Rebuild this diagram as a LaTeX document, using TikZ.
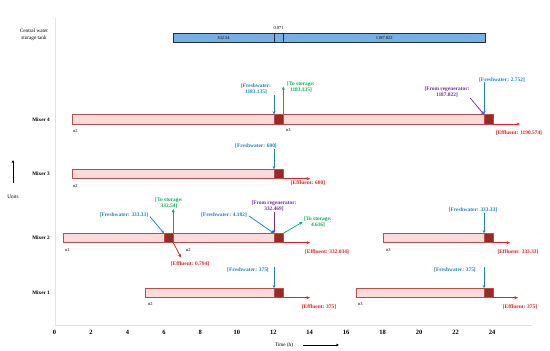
\documentclass[tikz,border=0pt]{standalone}
\usepackage{fontspec}
\setmainfont{Liberation Serif}
\usetikzlibrary{arrows.meta,positioning}

\definecolor{barfill}{RGB}{251,218,216}
\definecolor{barline}{RGB}{190,75,72}
\definecolor{darkfill}{RGB}{150,42,38}
\definecolor{tankfill}{RGB}{120,175,228}
\definecolor{tankline}{RGB}{35,45,60}
\definecolor{freshblue}{RGB}{25,130,205}
\definecolor{storegreen}{RGB}{0,178,80}
\definecolor{regenpurple}{RGB}{115,45,160}
\definecolor{efflred}{RGB}{245,25,25}
\definecolor{axisgray}{RGB}{225,225,225}

\tikzset{
  lite/.style={draw=barline, fill=barfill, line width=0.9pt, inner sep=0pt, outer sep=0pt, minimum height=9.4pt, anchor=west},
  dark/.style={lite, fill=darkfill, minimum width=9.3pt},
  tankseg/.style={draw=tankline, fill=tankfill, line width=0.9pt, inner sep=0pt, outer sep=0pt, minimum height=9.6pt, anchor=west, font=\fontsize{4.5}{5}\selectfont},
  tag/.style={font=\fontsize{5.4}{6}\selectfont\bfseries, inner sep=0.5pt, align=center},
  fwtag/.style={tag, text=freshblue},
  sttag/.style={tag, text=storegreen},
  rgtag/.style={tag, text=regenpurple},
  eftag/.style={tag, text=efflred},
  flow/.style={-{Stealth[length=3.4pt,width=3pt]}, line width=0.75pt},
  fw/.style={flow, freshblue},
  st/.style={flow, storegreen},
  rg/.style={flow, regenpurple},
  ef/.style={flow, efflred},
  mixer/.style={font=\fontsize{5.2}{6}\selectfont\bfseries, anchor=east, inner sep=0pt},
  nid/.style={font=\fontsize{4.5}{5}\selectfont, anchor=west, inner sep=0pt},
  tick/.style={font=\fontsize{6.5}{7}\selectfont\bfseries, inner sep=0pt},
  plain/.style={font=\fontsize{5.2}{6.6}\selectfont, inner sep=0pt, align=center},
  guide/.style={-{Stealth[length=3pt,width=2.6pt]}, line width=0.45pt}
}

\begin{document}
\begin{tikzpicture}[x=1pt,y=-1pt]
    \useasboundingbox (0,0) rectangle (550,351);

    % Axes
    \draw[axisgray, line width=0.6pt] (55,18) -- (55,325) -- (532,325);
    \foreach \t in {0,2,...,24}
        \node[tick] (h\t) at ({54.5+18.23*\t},332.5) {\t};
    \node[plain] (timelab) at (284,345) {Time (h)};
    \coordinate (timefrom) at (303,345);
    \coordinate (timeto) at (339,345);
    \draw[guide] (timefrom) -- (timeto);
    \node[plain] (unitlab) at (13,197) {Units};
    \coordinate (unitfrom) at (13,183);
    \coordinate (unitto) at (13,160);
    \draw[guide] (unitfrom) -- (unitto);

    % Central storage tank
    \node[plain] (tanklab) at (34,35) {Central water\\storage tank};
    \node[tankseg, minimum width=101pt] (tank1) at (173,38) {332.54};
    \node[tankseg, minimum width=9.3pt] (tank2) at (tank1.east) {};
    \node[tankseg, minimum width=202pt] (tank3) at (tank2.east) {1187.822};
    \node[plain, font=\fontsize{4.5}{5}\selectfont, above=3pt of tank2] (tankmid) {0.071};

    % Mixer 4
    \node[mixer] (mx4) at (50,120) {Mixer 4};
    \node[lite, minimum width=201.3pt] (m4a) at (72.7,119.3) {};
    \node[dark] (m4b) at (m4a.east) {};
    \node[lite, minimum width=200.7pt] (m4c) at (m4b.east) {};
    \node[dark] (m4d) at (m4c.east) {};
    \node[nid] (n4a) at (73,131) {n2};
    \node[nid] (n4b) at (286,130) {n3};
    \node[fwtag] (fw4a) at (256,89) {[Freshwater:\\1183.135]};
    \draw[fw] (fw4a.south -| m4b.north west) -- (m4b.north west);
    \node[sttag] (st4) at (301,86.5) {[To storage:\\1183.135]};
    \draw[st] (m4b.north east) -- (st4.center -| m4b.north east);
    \node[rgtag] (rg4) at (447,92) {[From regenerator:\\1187.822]};
    \draw[rg] (rg4.south east) -- (m4d.north west);
    \node[fwtag] (fw4b) at (502,79.5) {[Freshwater: 2.752]};
    \draw[fw] (fw4b.south -| m4d.north west) -- (m4d.north west);
    \node[eftag] (ef4) at (519,133) {[Effluent: 1190.574]};
    \coordinate (e4) at (520,0);
    \draw[ef] (m4d.south east) -- (m4d.south east -| e4);

    % Mixer 3
    \node[mixer] (mx3) at (50,174) {Mixer 3};
    \node[lite, minimum width=201.3pt] (m3a) at (72.7,174) {};
    \node[dark] (m3b) at (m3a.east) {};
    \node[nid] (n3a) at (73,186) {n2};
    \node[fwtag] (fw3) at (256,146) {[Freshwater: 600]};
    \draw[fw] (fw3.south -| m3b.north west) -- (m3b.north west);
    \node[eftag] (ef3) at (308,183) {[Effluent: 600]};
    \coordinate (e3) at (310,0);
    \draw[ef] (m3b.south east) -- (m3b.south east -| e3);

    % Mixer 2
    \node[mixer] (mx2) at (50,238) {Mixer 2};
    \node[lite, minimum width=100.4pt] (m2a) at (63.6,238) {};
    \node[dark] (m2b) at (m2a.east) {};
    \node[lite, minimum width=100.7pt] (m2c) at (m2b.east) {};
    \node[dark] (m2d) at (m2c.east) {};
    \node[lite, minimum width=101pt] (m2e) at (383,238) {};
    \node[dark] (m2f) at (m2e.east) {};
    \node[nid] (n2a) at (65,250) {n1};
    \node[nid] (n2b) at (186,250) {n2};
    \node[nid] (n2c) at (386,250) {n3};
    \node[fwtag] (fw2a) at (124,215.3) {[Freshwater: 333.33]};
    \draw[fw, shorten <=1.5pt] (fw2a.east) -- (m2b.north west);
    \node[sttag] (st2a) at (169,203) {[To storage:\\332.54]};
    \draw[st] (m2b.north east) -- (st2a.south -| m2b.north east);
    \node[eftag] (ef2a) at (190,264) {[Effluent: 0.794]};
    \coordinate (e2a) at (181,257.5);
    \draw[ef] (m2b.south east) -- (e2a);
    \node[fwtag] (fw2b) at (224,215) {[Freshwater: 4.182]};
    \draw[fw, shorten <=1.5pt] (fw2b.east) -- (m2d.north west);
    \node[rgtag] (rg2) at (274,206) {[From regenerator:\\332.469]};
    \draw[rg] (rg2.south -| m2d.north west) -- (m2d.north west);
    \node[sttag] (st2b) at (318,221.5) {[To storage:\\4.616]};
    \draw[st, shorten >=1pt] (m2d.north east) -- (st2b.west);
    \node[eftag] (ef2b) at (327,252) {[Effluent: 332.034]};
    \coordinate (e2b) at (310,0);
    \draw[ef] (m2d.south east) -- (m2d.south east -| e2b);
    \node[fwtag] (fw2c) at (473,210) {[Freshwater: 333.33]};
    \draw[fw] (fw2c.south -| m2f.north west) -- (m2f.north west);
    \node[eftag] (ef2c) at (518,252) {[Effluent: 333.33]};
    \coordinate (e2c) at (510,0);
    \draw[ef] (m2f.south east) -- (m2f.south east -| e2c);

    % Mixer 1
    \node[mixer] (mx1) at (50,293) {Mixer 1};
    \node[lite, minimum width=128.3pt] (m1a) at (145.7,293) {};
    \node[dark] (m1b) at (m1a.east) {};
    \node[lite, minimum width=128pt] (m1c) at (356,293) {};
    \node[dark] (m1d) at (m1c.east) {};
    \node[nid] (n1a) at (148,304) {n2};
    \node[nid] (n1b) at (358,304) {n3};
    \node[fwtag] (fw1a) at (248,270) {[Freshwater: 375]};
    \draw[fw] (fw1a.north -| m1b.north west) -- (m1b.north west);
    \node[fwtag] (fw1b) at (455,270) {[Freshwater: 375]};
    \draw[fw] (fw1b.north -| m1d.north west) -- (m1d.north west);
    \node[eftag] (ef1a) at (319,307) {[Effluent: 375]};
    \coordinate (e1a) at (310,0);
    \draw[ef] (m1b.south east) -- (m1b.south east -| e1a);
    \node[eftag] (ef1b) at (520,307) {[Effluent: 375]};
    \coordinate (e1b) at (518,0);
    \draw[ef] (m1d.south east) -- (m1d.south east -| e1b);
\end{tikzpicture}
\end{document}
